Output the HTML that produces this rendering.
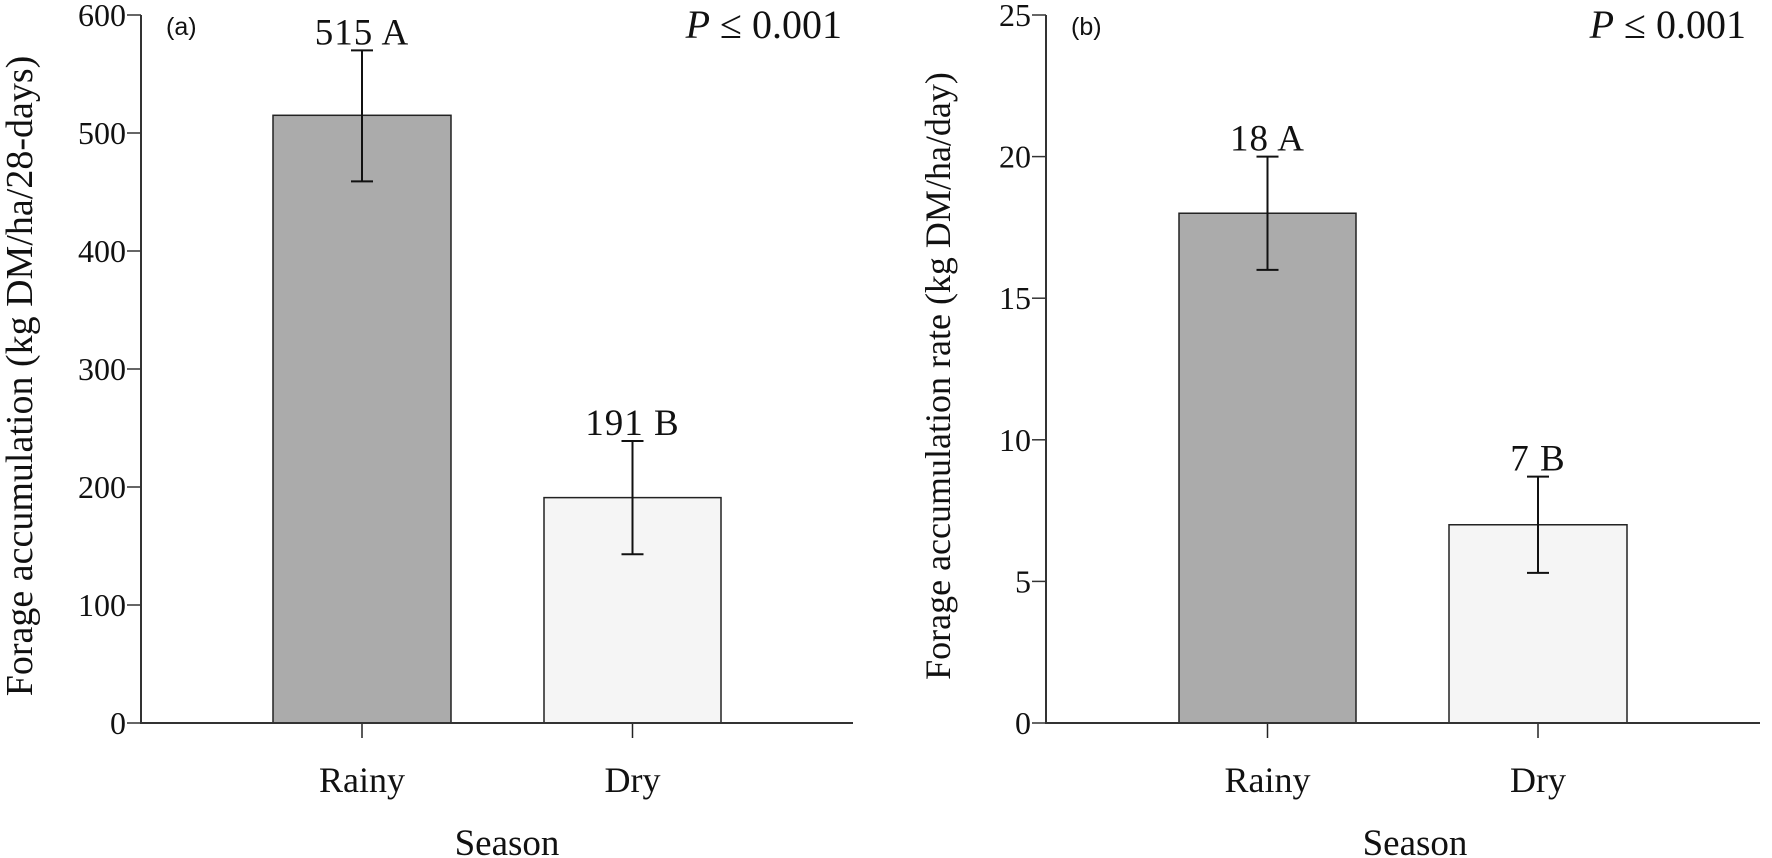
<!DOCTYPE html>
<html><head><meta charset="utf-8"><style>
body{margin:0;background:#fff}
svg{display:block}
text{font-family:"Liberation Serif",serif;fill:#111}
</style></head><body>
<svg id="chart" width="1772" height="858" xmlns="http://www.w3.org/2000/svg"></svg>
<script>
const categories=["Rainy","Dry"];
const accumValues=[515,191];
const accumErrLow=[459,143];
const accumErrHigh=[570,239];
const accumLabels=["515 A","191 B"];
const accumTicks=[0,100,200,300,400,500,600];
const rateValues=[18,7];
const rateErrLow=[16,5.3];
const rateErrHigh=[20,8.7];
const rateLabels=["18 A","7 B"];
const rateTicks=[0,5,10,15,20,25];

const NS="http://www.w3.org/2000/svg";
const svg=document.getElementById('chart');
function mk(tag,attrs,parent,txt){const e=document.createElementNS(NS,tag);for(const k in attrs)e.setAttribute(k,attrs[k]);if(txt!==undefined)e.textContent=txt;(parent||svg).appendChild(e);return e;}

function panel(cfg){
  const g=mk('g',{});
  
  
  const y0=723, yTop=cfg.yTop, max=cfg.ticks[cfg.ticks.length-1];
  const y=v=>y0-(v/max)*(y0-yTop);
  cfg.values.forEach((v,i)=>{
    const r=mk('rect',{x:cfg.barX[i],y:y(v),width:cfg.barW[i],height:y0-y(v),fill:i===0?'#ababab':'#f5f5f5',stroke:'#222','stroke-width':1.5},g);
    
    
    const cx=cfg.barX[i]+cfg.barW[i]/2;
    const eb=mk('path',{d:`M${cx},${y(cfg.hi[i])}V${y(cfg.lo[i])}M${cx-11},${y(cfg.hi[i])}H${cx+11}M${cx-11},${y(cfg.lo[i])}H${cx+11}`,stroke:'#111','stroke-width':2,fill:'none'},g);
    
    
    const vl=mk('text',{x:cx,y:y(cfg.hi[i])-6,'text-anchor':'middle','font-size':37,'letter-spacing':1},g,cfg.labels[i]);
    
    
    const cl=mk('text',{x:cx,y:792,'text-anchor':'middle','font-size':36},g,categories[i]);
    
    
    mk('line',{x1:cx,y1:y0,x2:cx,y2:y0+15,stroke:'#222','stroke-width':1.5},g);
  });
  const ax=mk('path',{d:`M${cfg.axX},${yTop}V${y0}H${cfg.axEnd}`,stroke:'#333','stroke-width':2,fill:'none'},g);
  
  
  cfg.ticks.forEach(t=>{
    mk('line',{x1:cfg.axX-14,y1:y(t),x2:cfg.axX,y2:y(t),stroke:'#333','stroke-width':1.5},g);
    const tl=mk('text',{x:cfg.axX-15,y:y(t)+11,'text-anchor':'end','font-size':32},g,String(t));
    
    
  });
  const yt=mk('text',{x:0,y:0,transform:`translate(${cfg.ytX},${cfg.ytY}) rotate(-90)`,'text-anchor':'middle','font-size':cfg.ytSize},g,cfg.ytitle);
  
  
  const xt=mk('text',{x:cfg.seasonX,y:855,'text-anchor':'middle','font-size':37},g,'Season');
  
  
  const pl=mk('text',{x:cfg.letterX,y:35,'font-size':25,style:'font-family:"Liberation Sans",sans-serif'},g,cfg.letter);
  
  
  const p=mk('text',{x:cfg.pX,y:38,'text-anchor':'end','font-size':40},g);
  
  
  mk('tspan',{'font-style':'italic'},p,'P');
  mk('tspan',{},p,' ≤ 0.001');
}
panel({name:'panel-a',yTop:15,ticks:accumTicks,values:accumValues,lo:accumErrLow,hi:accumErrHigh,labels:accumLabels,
  barX:[273,544],barW:[178,177],axX:141,axEnd:853,ytX:32,ytY:376,ytSize:38,seasonX:507,letter:'(a)',letterX:166,pX:842,
  ytitle:'Forage accumulation (kg DM/ha/28-days)'});
panel({name:'panel-b',yTop:15,ticks:rateTicks,values:rateValues,lo:rateErrLow,hi:rateErrHigh,labels:rateLabels,
  barX:[1179,1449],barW:[177,178],axX:1046,axEnd:1760,ytX:950,ytY:376,ytSize:36,seasonX:1415,letter:'(b)',letterX:1071,pX:1746,
  ytitle:'Forage accumulation rate (kg DM/ha/day)'});
</script>
</body></html>
